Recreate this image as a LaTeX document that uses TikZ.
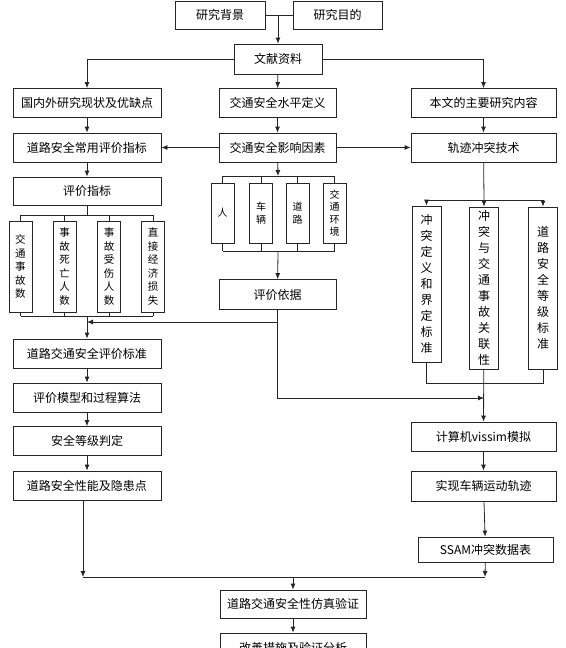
\documentclass[tikz,border=0pt]{standalone}
\usepackage{fontspec}
\setmainfont{Noto Sans CJK SC}
\usetikzlibrary{arrows.meta,positioning}

\begin{document}
\begin{tikzpicture}[x=1pt,y=-1pt,line width=0.8pt,draw=black!85,
      >={Latex[length=6pt,width=5pt]},
      every node/.style={font=\fontsize{12}{14}\selectfont},
      box/.style={draw=black!85,inner sep=0pt,minimum height=29pt,align=center},
      vbox/.style={draw=black!85,inner sep=0pt,minimum width=23pt,minimum height=91pt,
                   align=center,font=\fontsize{10.5}{13.5}\selectfont},
      sbox/.style={draw=black!85,inner sep=0pt,minimum width=23pt,minimum height=60pt,
                   align=center,font=\fontsize{10}{12.5}\selectfont},
      tbox/.style={draw=black!85,inner sep=0pt,minimum width=29pt,
                   align=center,font=\fontsize{12}{16}\selectfont}]
    \useasboundingbox (0,0) rectangle (565,648);
    % top
    \node[box,minimum width=90pt,minimum height=28pt] (bg) at (220,15) {研究背景};
    \node[box,minimum width=89pt,minimum height=28pt] (md) at (337.5,15) {研究目的};
    \node[box,minimum width=88pt,minimum height=30pt] (wx) at (278,59) {文献资料};
    % row 2 and 3
    \node[box,minimum width=148pt] (gn) at (87,103)    {国内外研究现状及优缺点};
    \node[box,minimum width=117pt] (dy) at (277.5,103) {交通安全水平定义};
    \node[box,minimum width=145pt] (nr) at (483.5,103) {本文的主要研究内容};
    \node[box,minimum width=148pt] (cy) at (87,147.5)    {道路安全常用评价指标};
    \node[box,minimum width=117pt] (yx) at (277.5,147.5) {交通安全影响因素};
    \node[box,minimum width=145pt] (gj) at (483.5,147.5) {轨迹冲突技术};
    % left column
    \node[box,minimum width=148pt,minimum height=28pt] (pj) at (87,191) {评价指标};
    \node[vbox] (a1) at (20.5,266.5) {交\\通\\事\\故\\数};
    \node[vbox] (a2) at (64.5,266.5) {事\\故\\死\\亡\\人\\数};
    \node[vbox] (a3) at (109,266.5)  {事\\故\\受\\伤\\人\\数};
    \node[vbox] (a4) at (153,266.5)  {直\\接\\经\\济\\损\\失};
    \node[box,minimum width=148pt] (bz) at (87,353.5) {道路交通安全评价标准};
    \node[box,minimum width=148pt] (mx) at (87,397.5) {评价模型和过程算法};
    \node[box,minimum width=148pt] (dj) at (87,441)   {安全等级判定};
    \node[box,minimum width=148pt] (yh) at (87,485.5) {道路安全性能及隐患点};
    % middle column
    \node[sbox] (m1) at (222.5,213) {人};
    \node[sbox] (m2) at (261,213)   {车\\辆};
    \node[sbox] (m3) at (297.5,213) {道\\路};
    \node[sbox] (m4) at (334.5,213) {交\\通\\环\\境};
    \node[box,minimum width=117pt,minimum height=30pt] (yj) at (277.5,294.5) {评价依据};
    % right column
    \node[tbox,minimum height=156pt] (b1) at (426.5,284) {冲\\突\\定\\义\\和\\界\\定\\标\\准};
    \node[tbox,minimum height=162pt] (b2) at (484,288)   {冲\\突\\与\\交\\通\\事\\故\\关\\联\\性};
    \node[tbox,minimum height=162pt] (b3) at (543,288)   {道\\路\\安\\全\\等\\级\\标\\准};
    \node[box,minimum width=145pt] (vs)  at (483.5,436.5) {计算机vissim模拟};
    \node[box,minimum width=145pt,minimum height=30pt] (sx) at (483.5,486) {实现车辆运动轨迹};
    \node[box,minimum width=135pt,minimum height=25pt] (ss) at (485.5,549.5) {SSAM冲突数据表};
    % bottom
    \node[box,minimum width=146pt,minimum height=28pt] (fz) at (293,604) {道路交通安全性仿真验证};
    \node[box,minimum width=146pt,minimum height=29pt] (gs) at (293,647.5) {改善措施及验证分析};

    \coordinate (tjoin) at (278,15);
    \coordinate (ltop) at (87,215);
    \coordinate (lbot) at (87,316);
    \coordinate (lmeet) at (87,322);
    \coordinate (mtop) at (278,176);
    \coordinate (mbot) at (278,251);
    \coordinate (rtop) at (484,200);
    \coordinate (rbot) at (484,383);
    \coordinate (rmeet) at (484,398);
    \coordinate (ljoin) at (83,577);
    \coordinate (bjoin) at (485,577);

    \draw (bg) -- (md);
    \draw[->] (tjoin) -- (wx);
    \draw[->] (wx.west) -| (gn);
    \draw[->] (wx) -- (dy);
    \draw[->] (wx.east) -| (nr);
    \draw[->] (gn) -- (cy);
    \draw[->] (dy) -- (yx);
    \draw[->] (nr) -- (gj);
    \draw[->] (yx) -- (cy);
    \draw[->] (yx) -- (gj);
    % left
    \draw[->] (cy) -- (pj);
    \draw (pj) -- (ltop);
    \draw (ltop -| a1) -- (ltop -| a4);
    \draw (lbot -| a1) -- (lbot -| a4);
    \foreach \b in {a1,a2,a3,a4} {
      \draw (ltop -| \b) -- (\b);
      \draw (\b) -- (lbot -| \b);
    }
    \draw[->] (lbot) -- (bz);
    \draw[->] (bz) -- (mx);
    \draw[->] (mx) -- (dj);
    \draw[->] (dj) -- (yh);
    % middle
    \draw[->] (yx) -- (mtop);
    \draw (mtop -| m1) -- (mtop -| m4);
    \draw (mbot -| m1) -- (mbot -| m4);
    \foreach \b in {m1,m2,m3,m4} {
      \draw (mtop -| \b) -- (\b);
      \draw (\b) -- (mbot -| \b);
    }
    \draw[->] (mbot) -- (yj);
    \draw[->] (yj.south) |- (lmeet);
    \draw[->] (yj.south) |- (rmeet);
    % right
    \draw (gj) -- (rtop);
    \draw (rtop -| b1) -- (rtop -| b3);
    \foreach \b in {b1,b2,b3}
      \draw[->] (rtop -| \b) -- (\b);
    \draw (b1) -- (rbot -| b1) -- (rbot -| b3) -- (b3);
    \draw[->] (b2) -- (vs);
    \draw[->] (vs) -- (sx);
    \draw[->] (sx) -- (ss);
    \draw[->] (ss) -- (bjoin);
    % bottom
    \draw[->] (ljoin |- yh.south) -- (ljoin);
    \draw (ljoin) -- (bjoin);
    \draw[->] (fz |- ljoin) -- (fz);
    \draw[->] (fz) -- (gs);
  \end{tikzpicture}
\end{document}
